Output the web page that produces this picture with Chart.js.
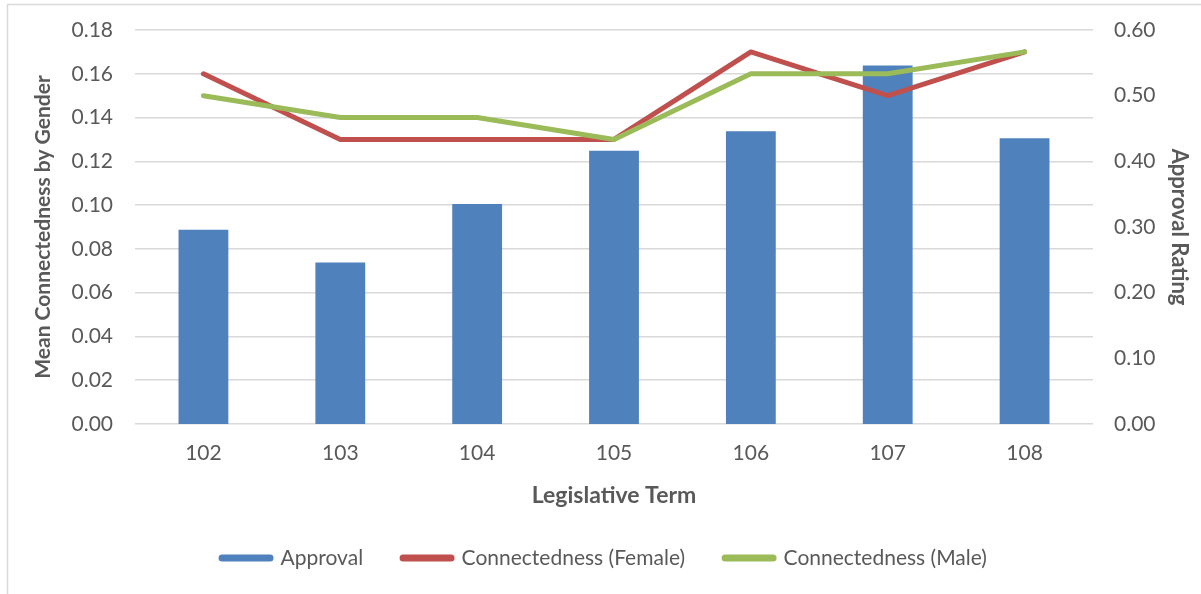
<!DOCTYPE html>
<html>
<head>
<meta charset="utf-8">
<title>Approval and Connectedness by Legislative Term</title>
<script src="https://cdn.jsdelivr.net/npm/chart.js@4.4.1/dist/chart.umd.min.js"></script>
<style>
  html, body { margin: 0; padding: 0; background: #ffffff; }
  #wrap { width: 1201px; height: 594px; position: relative; }
</style>
</head>
<body>
<div id="wrap"><canvas id="chart" width="1201" height="594"></canvas></div>
<script>
// Legislative terms on the x axis
const terms = ['102', '103', '104', '105', '106', '107', '108'];

// Approval rating (right axis)
const approval = [0.296, 0.246, 0.335, 0.416, 0.446, 0.546, 0.435];

// Mean connectedness by gender (left axis)
const connFemale = [0.16, 0.13, 0.13, 0.13, 0.17, 0.15, 0.17];
const connMale = [0.15, 0.14, 0.14, 0.13, 0.16, 0.16, 0.17];

const seriesNames = ['Approval', 'Connectedness (Female)', 'Connectedness (Male)'];

const BLUE = '#4F81BD';
const RED = '#C0504D';
const GREEN = '#9BBB59';
const TEXT = '#595959';
const GRID = '#d9d9d9';
const FONT = 'Lato, "Open Sans", "Liberation Sans", sans-serif';

// White background and the thin outer frame
const frame = {
  id: 'frame',
  beforeDraw(chart) {
    const ctx = chart.ctx;
    ctx.save();
    ctx.fillStyle = '#ffffff';
    ctx.fillRect(0, 0, chart.width, chart.height);
    ctx.strokeStyle = '#d9d9d9';
    ctx.lineWidth = 1.5;
    ctx.strokeRect(7.5, 4.5, chart.width + 10, chart.height + 10);
    ctx.restore();
  }
};

const tickFont = { family: FONT, size: 21 };

// Vertical axes: fixed width, and no extra top/bottom room reserved for the
// outer tick labels (the layout padding already leaves enough space)
function fixVertical(width) {
  return (scale) => {
    scale.width = width;
    scale.paddingTop = 0;
    scale.paddingBottom = 0;
  };
}

new Chart(document.getElementById('chart'), {
  data: {
    labels: terms,
    datasets: [
      {
        type: 'bar',
        label: seriesNames[0],
        data: approval,
        yAxisID: 'y1',
        backgroundColor: BLUE,
        borderWidth: 0,
        categoryPercentage: 1.0,
        barPercentage: 0.364,
        order: 3
      },
      {
        type: 'line',
        label: seriesNames[1],
        data: connFemale,
        yAxisID: 'y',
        borderColor: RED,
        backgroundColor: RED,
        borderWidth: 5,
        pointRadius: 0,
        pointHoverRadius: 0,
        borderCapStyle: 'round',
        borderJoinStyle: 'round',
        tension: 0,
        order: 2
      },
      {
        type: 'line',
        label: seriesNames[2],
        data: connMale,
        yAxisID: 'y',
        borderColor: GREEN,
        backgroundColor: GREEN,
        borderWidth: 5,
        pointRadius: 0,
        pointHoverRadius: 0,
        borderCapStyle: 'round',
        borderJoinStyle: 'round',
        tension: 0,
        order: 1
      }
    ]
  },
  options: {
    responsive: false,
    animation: false,
    devicePixelRatio: 1,
    layout: { padding: { left: 8, right: 0, top: 30, bottom: 15.5 } },
    plugins: {
      tooltip: { enabled: false },
      legend: {
        position: 'bottom',
        align: 'center',
        labels: {
          font: { family: FONT, size: 21 },
          color: TEXT,
          usePointStyle: true,
          pointStyleWidth: 48,
          padding: 40,
          generateLabels(chart) {
            return chart.data.datasets.map((ds, i) => ({
              text: ds.label,
              datasetIndex: i,
              pointStyle: 'line',
              strokeStyle: ds.type === 'bar' ? ds.backgroundColor : ds.borderColor,
              fillStyle: ds.type === 'bar' ? ds.backgroundColor : ds.borderColor,
              lineWidth: 7,
              lineCap: 'round',
              fontColor: TEXT,
              hidden: false
            }));
          }
        }
      }
    },
    scales: {
      x: {
        grid: { display: false, drawTicks: false },
        border: { display: false },
        ticks: { font: tickFont, color: TEXT, padding: 17 },
        title: {
          display: true,
          text: 'Legislative Term',
          font: { family: FONT, size: 23, weight: 'bold' },
          color: TEXT,
          padding: { top: 0, bottom: -2 }
        },
        afterFit(scale) { scale.height = 83.5; }
      },
      y: {
        position: 'left',
        min: 0,
        max: 0.18,
        grid: { color: GRID, lineWidth: 1.5, drawTicks: false },
        border: { display: false },
        ticks: {
          stepSize: 0.02,
          font: tickFont,
          color: TEXT,
          padding: 22,
          callback: (v) => Number(v).toFixed(2)
        },
        title: {
          display: true,
          text: 'Mean Connectedness by Gender',
          font: { family: FONT, size: 21, weight: 'bold' },
          color: TEXT,
          padding: { top: 23, bottom: 0 }
        },
        afterFit: fixVertical(127)
      },
      y1: {
        position: 'right',
        min: 0,
        max: 0.6,
        grid: { display: false, drawTicks: false },
        border: { display: false },
        ticks: {
          stepSize: 0.1,
          font: tickFont,
          color: TEXT,
          padding: 21,
          callback: (v) => Number(v).toFixed(2)
        },
        title: {
          display: true,
          text: 'Approval Rating',
          font: { family: FONT, size: 22, weight: 'bold' },
          color: TEXT,
          padding: { top: 9, bottom: 0 }
        },
        afterFit: fixVertical(108)
      }
    }
  },
  plugins: [frame]
});
</script>
</body>
</html>
